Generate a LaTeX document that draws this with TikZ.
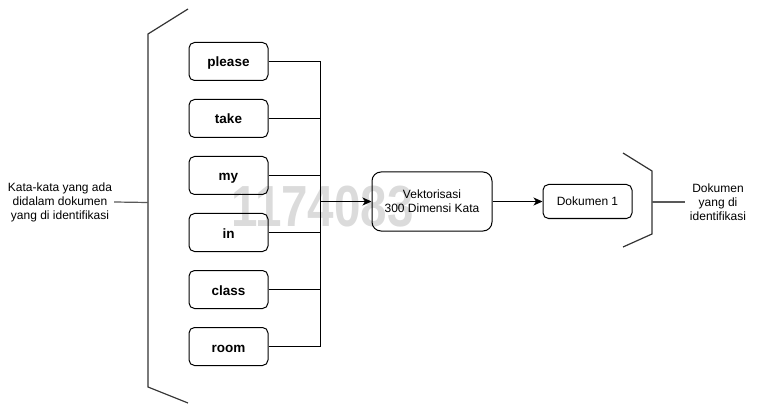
\documentclass[tikz,border=0pt]{standalone}
\usepackage{fontspec}
\setmainfont{Liberation Sans}
\usetikzlibrary{arrows.meta}
\tikzset{
  wordbox/.style={draw, line width=1pt, rounded corners=5.5pt, minimum width=79pt, minimum height=38pt, inner sep=0pt, text height=13pt, text depth=2pt, font=\fontsize{13.5}{16}\selectfont\bfseries},
  procbox/.style={draw, line width=1pt, rounded corners=9pt, minimum width=120pt, minimum height=59pt, inner sep=0pt, align=center, font=\fontsize{12}{14}\selectfont},
  docbox/.style={draw, line width=1pt, rounded corners=5.5pt, minimum width=89pt, minimum height=34pt, inner sep=0pt, font=\fontsize{12}{14}\selectfont},
  lbltext/.style={align=center, inner sep=2pt, font=\fontsize{12}{14}\selectfont},
  wire/.style={line width=1pt},
  arrowwire/.style={line width=1pt, -{Stealth[length=9pt,width=8pt,inset=2.5pt]}},
  bracketline/.style={line width=1.2pt, draw=black!80},
  leader/.style={line width=1.2pt, draw=black!65},
}
\begin{document}
\begin{tikzpicture}[x=1pt,y=-1pt]
\useasboundingbox (0,0) rectangle (760,414);
% watermark
\node[text=black!14, font=\fontsize{58}{60}\selectfont\bfseries, xscale=0.82, inner sep=0pt, anchor=center] (wm) at (322.5,206.5) {1174083};

% word boxes
\node[wordbox] (please) at (228.5,61.5) {please};
\node[wordbox] (take) at (228.5,118.5) {take};
\node[wordbox] (my) at (228.5,175.5) {my};
\node[wordbox] (in) at (228.5,232.5) {in};
\node[wordbox] (class) at (228.5,289.5) {class};
\node[wordbox] (room) at (228.5,346.5) {room};

% bus
\coordinate (bustop) at (320,61.5);
\coordinate (busbot) at (320,346.5);
\coordinate (busmid) at (320,201.5);
\draw[wire] (bustop) -- (busbot);
\foreach \n in {please,take,my,in,class,room}
  \draw[wire] (\n.east) -- (\n.east -| bustop);

% process
\node[procbox] (vek) at (432,201.5) {Vektorisasi\\300 Dimensi Kata};
\node[docbox] (dok) at (587.5,201.5) {Dokumen 1};
\draw[arrowwire] (busmid) -- (vek.west);
\draw[arrowwire] (vek.east) -- (dok.west);

% left bracket
\coordinate (lbt) at (188,9);
\coordinate (lbtc) at (148,34);
\coordinate (lbbc) at (148,387);
\coordinate (lbb) at (188,403);
\coordinate (lbmid) at (148,202.5);
\draw[bracketline] (lbt) -- (lbtc) -- (lbbc) -- (lbb);
\node[lbltext] (llbl) at (60,202) {Kata-kata yang ada\\didalam dokumen\\yang di identifikasi};
\draw[leader] (llbl.east) -- (lbmid);

% right bracket
\coordinate (rbt) at (623,153);
\coordinate (rbtc) at (652,171);
\coordinate (rbbc) at (652,234);
\coordinate (rbb) at (623,247);
\coordinate (rbmid) at (652,202);
\draw[bracketline] (rbt) -- (rbtc) -- (rbbc) -- (rbb);
\node[lbltext, inner sep=5pt] (rlbl) at (718,202) {Dokumen\\yang di\\identifikasi};
\draw[leader] (rbmid) -- (rlbl.west);
\end{tikzpicture}
\end{document}
